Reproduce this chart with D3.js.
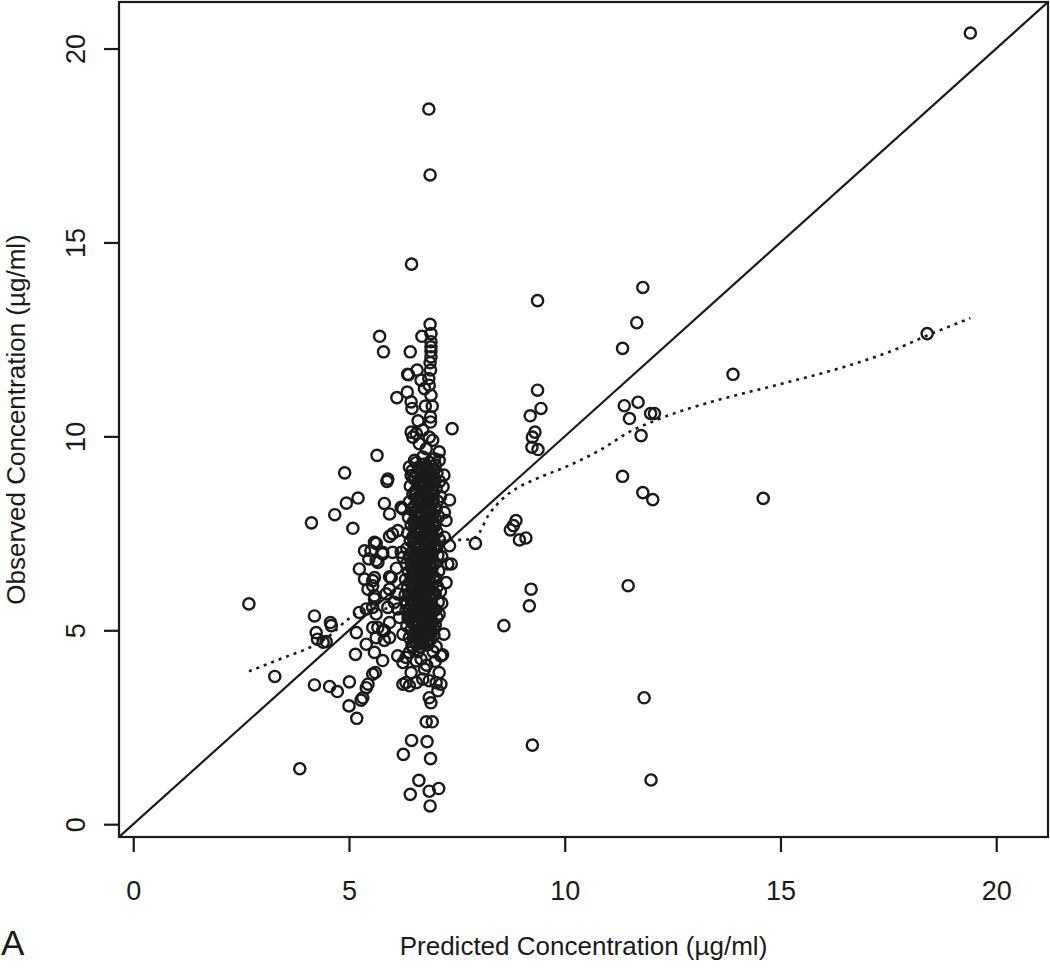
<!DOCTYPE html>
<html>
<head>
<meta charset="utf-8">
<script src="https://cdn.jsdelivr.net/npm/d3@7"></script>
<style>
  body { margin: 0; background: #fff; }
  svg { display: block; font-family: "Liberation Sans", Arial, sans-serif; }
</style>
</head>
<body>
<svg width="1050" height="970"></svg>
<script>
// ticks
const xTicks = [0, 5, 10, 15, 20];
const yTicks = [0, 5, 10, 15, 20];

// [predicted, observed] pairs
const topPoints = [[19.4, 20.4], [6.85, 18.44], [6.88, 16.74], [6.45, 14.44]];

const upperColumn = [
  [6.88, 12.89], [6.9, 12.65], [6.69, 12.58], [6.9, 12.44], [6.9, 12.31], [6.9, 12.2], [6.42, 12.18], [5.71, 12.58], [5.8, 12.18],
  [6.89, 11.71], [6.58, 11.71], [6.38, 11.59], [6.67, 11.45], [6.85, 11.49], [6.86, 11.32], [6.75, 11.23], [6.9, 11.06], [6.35, 11.14], [6.11, 11.0],
  [6.44, 10.89], [6.46, 10.72], [6.77, 10.78], [6.93, 10.78], [6.89, 10.5], [6.89, 10.37], [6.6, 10.4], [7.39, 10.2],
  [6.44, 10.11], [6.56, 10.07], [6.71, 10.16], [6.86, 9.98], [6.94, 9.9], [6.48, 9.98], [6.63, 9.81], [6.79, 9.68], [7.09, 9.6], [5.65, 9.51],
  [6.52, 9.38], [6.71, 9.47], [6.98, 9.42], [7.09, 9.38], [6.4, 9.21], [6.88, 11.9], [6.9, 12.05]
];

const rightPoints = [
  [9.37, 13.5], [11.81, 13.84], [11.67, 12.93], [11.34, 12.27], [9.37, 11.19], [9.45, 10.72], [9.2, 10.53], [9.31, 10.11],
  [9.25, 9.98], [9.24, 9.72], [9.38, 9.66], [11.38, 10.79], [11.7, 10.88], [11.5, 10.46], [11.99, 10.59], [12.08, 10.59],
  [11.77, 10.02], [11.34, 8.97], [11.81, 8.55], [12.04, 8.37], [8.87, 7.83], [8.81, 7.7], [8.74, 7.59], [8.95, 7.33],
  [9.1, 7.38], [7.93, 7.24], [9.22, 6.06], [9.18, 5.63], [8.59, 5.12], [11.47, 6.15], [11.84, 3.26], [12.0, 1.14],
  [9.25, 2.04], [13.9, 11.6], [14.6, 8.4], [18.4, 12.65]
];

const leftPoints = [
  [2.68, 5.68], [3.28, 3.81], [3.86, 1.43], [4.13, 7.77], [4.67, 7.98], [4.9, 9.06], [4.94, 8.28], [5.21, 8.41], [5.09, 7.63],
  [4.2, 5.37], [4.57, 5.2], [4.59, 5.12], [4.24, 4.94], [4.27, 4.77], [4.4, 4.69], [4.47, 4.71], [4.2, 3.59], [4.55, 3.55],
  [4.73, 3.42], [5.01, 3.67], [5.0, 3.05], [5.18, 2.73], [5.28, 3.2], [5.32, 3.26], [5.4, 3.52], [5.44, 3.61], [5.55, 3.87],
  [5.61, 3.91], [5.15, 4.38], [5.17, 4.94], [5.4, 4.64], [5.59, 4.43], [5.82, 4.74], [5.78, 4.22], [5.63, 4.81], [5.24, 5.46],
  [5.4, 5.55], [5.55, 5.59], [5.67, 5.07], [5.78, 4.99], [5.94, 5.2], [5.24, 6.58], [5.36, 6.32], [5.44, 6.06], [5.55, 6.28],
  [5.59, 5.89], [5.36, 7.05], [5.51, 7.05], [5.63, 7.24], [5.67, 6.75], [5.46, 6.84], [5.78, 6.97], [6.01, 7.01], [5.94, 7.42],
  [5.98, 6.36], [5.94, 6.06], [6.13, 5.94], [6.21, 7.01], [6.13, 5.55], [5.94, 8.0], [5.82, 8.27], [6.21, 8.17], [5.88, 8.84],
  [6.25, 8.13], [6.44, 8.99], [5.59, 7.27], [5.78, 7.01], [5.63, 6.8], [5.94, 6.38], [5.59, 6.36], [5.55, 6.15], [5.86, 5.94],
  [5.59, 5.81], [5.63, 5.42], [5.9, 5.59], [6.05, 5.72], [6.17, 5.33], [5.55, 5.07], [5.82, 4.99], [5.94, 4.81], [6.25, 4.9],
  [6.13, 7.57], [6.25, 6.88], [6.1, 6.6], [5.9, 8.9], [6.01, 7.49], [6.36, 11.6]
];

const lowPoints = [
  [6.13, 4.34], [6.25, 4.17], [6.32, 4.3], [6.4, 4.43], [6.48, 4.56], [6.56, 4.21], [6.67, 4.26], [6.44, 3.91], [6.32, 3.65],
  [6.25, 3.61], [6.4, 3.57], [6.56, 3.65], [6.71, 3.74], [6.86, 3.7], [7.02, 3.65], [7.13, 4.34], [7.09, 3.91], [7.13, 3.61],
  [7.06, 3.44], [6.86, 3.26], [6.9, 3.13], [6.79, 2.64], [6.93, 2.64], [6.45, 2.16], [6.81, 2.13], [6.26, 1.8], [6.89, 1.69],
  [6.62, 1.13], [6.42, 0.77], [6.86, 0.85], [7.08, 0.92], [6.88, 0.47], [6.95, 4.45], [6.8, 4.1], [6.6, 4.45], [6.75, 4.0], [7.0, 4.2]
];

const sidePoints = [
  [7.17, 4.37], [7.2, 4.9], [7.15, 5.7], [7.12, 6.0], [7.09, 5.42], [7.25, 6.23], [7.29, 6.71], [7.37, 6.71], [7.33, 7.18],
  [7.21, 7.4], [7.25, 7.83], [7.21, 8.04], [7.33, 8.36], [7.18, 8.7], [7.2, 9.0], [7.15, 6.9]
];

const corePoints = [
  [6.55, 9.32], [6.72, 9.28], [6.86, 9.33], [7.0, 9.26], [6.62, 9.21], [6.8, 9.17], [6.93, 9.23],
  [6.46, 9.11], [6.68, 9.08], [6.84, 9.12], [7.04, 9.06], [6.58, 9.01], [6.76, 8.97], [6.9, 9.03],
  [6.5, 8.91], [6.66, 8.87], [6.82, 8.93], [6.97, 8.89], [7.1, 8.84], [6.6, 8.81], [6.78, 8.76], [6.88, 8.8],
  [6.42, 8.72], [6.7, 8.68], [6.85, 8.71], [7.02, 8.66], [6.55, 8.61], [6.74, 8.57], [6.91, 8.62],
  [6.48, 8.51], [6.64, 8.47], [6.8, 8.52], [6.95, 8.49], [7.12, 8.45], [6.58, 8.41], [6.72, 8.37], [6.87, 8.42],
  [6.4, 8.31], [6.62, 8.28], [6.78, 8.32], [6.92, 8.27], [7.05, 8.33], [6.52, 8.21], [6.69, 8.17], [6.84, 8.22],
  [6.45, 8.11], [6.6, 8.07], [6.76, 8.12], [6.9, 8.08], [7.02, 8.13], [6.54, 8.01], [6.7, 7.97], [6.83, 8.02], [6.96, 7.98],
  [6.38, 7.91], [6.63, 7.88], [6.78, 7.92], [6.88, 7.87], [7.08, 7.93], [6.5, 7.81], [6.67, 7.77], [6.81, 7.82], [6.94, 7.78],
  [6.44, 7.71], [6.58, 7.67], [6.74, 7.72], [6.86, 7.68], [7.0, 7.73], [6.53, 7.61], [6.69, 7.57], [6.84, 7.62], [6.92, 7.58],
  [6.36, 7.51], [6.6, 7.48], [6.77, 7.52], [6.89, 7.47], [7.04, 7.53], [6.48, 7.41], [6.65, 7.37], [6.8, 7.42], [6.95, 7.38],
  [6.42, 7.31], [6.57, 7.27], [6.72, 7.32], [6.86, 7.28], [7.1, 7.33], [6.51, 7.21], [6.68, 7.17], [6.83, 7.22], [6.97, 7.18],
  [6.34, 7.11], [6.6, 7.08], [6.75, 7.12], [6.9, 7.07], [7.03, 7.13], [6.46, 7.01], [6.64, 6.97], [6.8, 7.02], [6.93, 6.98],
  [6.4, 6.91], [6.55, 6.87], [6.71, 6.92], [6.85, 6.88], [7.06, 6.93], [6.5, 6.81], [6.67, 6.77], [6.82, 6.82], [6.95, 6.78],
  [6.33, 6.71], [6.6, 6.68], [6.76, 6.72], [6.88, 6.67], [7.0, 6.73], [6.45, 6.61], [6.63, 6.57], [6.79, 6.62], [6.92, 6.58],
  [6.38, 6.51], [6.54, 6.47], [6.7, 6.52], [6.85, 6.48], [7.08, 6.53], [6.48, 6.41], [6.66, 6.37], [6.81, 6.42], [6.96, 6.38],
  [6.31, 6.31], [6.58, 6.28], [6.74, 6.32], [6.87, 6.27], [7.02, 6.33], [6.44, 6.21], [6.62, 6.17], [6.78, 6.22], [6.93, 6.18],
  [6.36, 6.11], [6.52, 6.07], [6.7, 6.12], [6.84, 6.08], [7.05, 6.13], [6.47, 6.01], [6.64, 5.97], [6.8, 6.02], [6.94, 5.98],
  [6.3, 5.91], [6.56, 5.88], [6.73, 5.92], [6.88, 5.87], [7.0, 5.93], [6.42, 5.81], [6.6, 5.77], [6.77, 5.82], [6.91, 5.78],
  [6.35, 5.71], [6.5, 5.67], [6.68, 5.72], [6.83, 5.68], [7.07, 5.73], [6.45, 5.61], [6.63, 5.57], [6.8, 5.62], [6.95, 5.58],
  [6.32, 5.51], [6.55, 5.48], [6.72, 5.52], [6.86, 5.47], [7.01, 5.53], [6.43, 5.41], [6.6, 5.37], [6.76, 5.42], [6.9, 5.38],
  [6.37, 5.31], [6.52, 5.27], [6.69, 5.32], [6.83, 5.28], [7.04, 5.33], [6.46, 5.21], [6.64, 5.17], [6.8, 5.22], [6.93, 5.18],
  [6.34, 5.11], [6.57, 5.08], [6.73, 5.12], [6.87, 5.07], [7.0, 5.13], [6.44, 5.01], [6.62, 4.97], [6.78, 5.02], [6.91, 4.98],
  [6.5, 4.91], [6.68, 4.87], [6.84, 4.92], [6.97, 4.88], [6.4, 4.81], [6.6, 4.77], [6.76, 4.82], [6.9, 4.78],
  [6.55, 4.71], [6.72, 4.67], [6.86, 4.72], [6.46, 4.61], [6.66, 4.57], [6.82, 4.62], [7.02, 4.58]
];

const coreFill = [
  [6.63, 9.15], [6.77, 9.05], [6.95, 9.12], [6.53, 8.95], [6.72, 8.85], [6.9, 8.95], [6.62, 8.75], [6.8, 8.65], [6.97, 8.75],
  [6.53, 8.55], [6.7, 8.45], [6.88, 8.55], [6.58, 8.35], [6.75, 8.25], [6.95, 8.35], [6.5, 8.15], [6.67, 8.05], [6.86, 8.15],
  [6.58, 7.95], [6.73, 7.85], [6.92, 7.95], [6.52, 7.75], [6.65, 7.65], [6.8, 7.75], [6.97, 7.65], [6.56, 7.55], [6.72, 7.45],
  [6.86, 7.55], [6.5, 7.35], [6.64, 7.25], [6.78, 7.35], [6.92, 7.25], [6.56, 7.15], [6.7, 7.05], [6.86, 7.15], [6.52, 6.95],
  [6.64, 6.85], [6.78, 6.95], [6.92, 6.85], [6.44, 6.75], [6.56, 6.65], [6.72, 6.75], [6.86, 6.65], [6.5, 6.55], [6.62, 6.45],
  [6.76, 6.55], [6.9, 6.45], [6.44, 6.35], [6.56, 6.25], [6.7, 6.35], [6.84, 6.25], [6.98, 6.35], [6.5, 6.15], [6.6, 6.05],
  [6.74, 6.15], [6.88, 6.05], [6.4, 5.95], [6.54, 5.85], [6.68, 5.95], [6.84, 5.85], [6.98, 5.95], [6.5, 5.75], [6.6, 5.65],
  [6.74, 5.75], [6.88, 5.65], [6.4, 5.55], [6.5, 5.45], [6.66, 5.55], [6.82, 5.45], [6.96, 5.55], [6.4, 5.35], [6.56, 5.25],
  [6.72, 5.35], [6.88, 5.25], [6.5, 5.15], [6.66, 5.05], [6.82, 5.15], [6.96, 5.05], [6.55, 4.95], [6.72, 4.85], [6.88, 4.95],
  [6.5, 4.75], [6.66, 4.65], [6.8, 4.72]
];

// dotted smoother
const loessPred = [2.68, 3.5, 4.24, 4.55, 4.94, 5.32, 5.78, 6.09, 6.4, 6.7, 6.9, 7.1, 7.33, 7.63, 7.93, 8.25, 8.56, 8.87, 9.33, 10.1, 10.87, 11.49, 12.1, 12.88, 13.53, 15.0, 16.5, 17.5, 18.4, 19.4];
const loessObs = [3.94, 4.3, 4.64, 4.86, 5.25, 5.5, 5.55, 5.59, 5.85, 6.4, 7.0, 7.3, 7.33, 7.33, 7.4, 8.0, 8.39, 8.65, 8.9, 9.25, 9.68, 10.11, 10.41, 10.72, 10.93, 11.35, 11.8, 12.17, 12.6, 13.05];

const allPoints = topPoints.concat(upperColumn, rightPoints, leftPoints, lowPoints, sidePoints, corePoints, coreFill);

const svg = d3.select("svg");
const ink = "#1a1a1a";

const x = d3.scaleLinear().domain([-0.33, 21.2]).range([119, 1048]);
const y = d3.scaleLinear().domain([-0.33, 21.2]).range([837, 2]);

const plot = svg.append("g");

svg.append("clipPath").attr("id", "clip")
  .append("rect")
  .attr("x", 119).attr("y", 2)
  .attr("width", 1048 - 119).attr("height", 837 - 2);

// identity line
plot.append("line")
  .attr("clip-path", "url(#clip)")
  .attr("x1", x(-0.33)).attr("y1", y(-0.33))
  .attr("x2", x(21.2)).attr("y2", y(21.2))
  .attr("stroke", ink)
  .attr("stroke-width", 2.2);

// points
plot.append("g")
  .selectAll("circle")
  .data(allPoints)
  .join("circle")
  .attr("cx", function(d) { return x(d[0]); })
  .attr("cy", function(d) { return y(d[1]); })
  .attr("r", 5.6)
  .attr("fill", "none")
  .attr("stroke", ink)
  .attr("stroke-width", 2.4);

// smoother
const smooth = d3.line()
  .x(function(d, i) { return x(loessPred[i]); })
  .y(function(d, i) { return y(d); })
  .curve(d3.curveMonotoneX);

plot.append("path")
  .datum(loessObs)
  .attr("d", smooth)
  .attr("fill", "none")
  .attr("stroke", ink)
  .attr("stroke-width", 2.6)
  .attr("stroke-dasharray", "3,5");

// box
svg.append("rect")
  .attr("x", 119).attr("y", 2)
  .attr("width", 1048 - 119).attr("height", 837 - 2)
  .attr("fill", "none")
  .attr("stroke", ink)
  .attr("stroke-width", 2.2);

// axes
const xAxis = svg.append("g")
  .attr("transform", "translate(0,837)")
  .call(d3.axisBottom(x).tickValues(xTicks).tickSize(15).tickPadding(29));

const yAxis = svg.append("g")
  .attr("transform", "translate(119,0)")
  .call(d3.axisLeft(y).tickValues(yTicks).tickSize(15));

[xAxis, yAxis].forEach(function(a) {
  a.select(".domain").remove();
  a.selectAll("line").attr("stroke", ink).attr("stroke-width", 2.2);
  a.selectAll("text")
    .attr("fill", ink)
    .style("font-size", "27px")
    .style("font-family", "\"Liberation Sans\", Arial, sans-serif");
});

yAxis.selectAll("text")
  .attr("transform", "rotate(-90)")
  .attr("x", 0)
  .attr("y", -34)
  .attr("dy", 0)
  .attr("text-anchor", "middle");

// titles
svg.append("text")
  .attr("x", (119 + 1048) / 2)
  .attr("y", 955)
  .attr("text-anchor", "middle")
  .attr("fill", ink)
  .style("font-size", "26px")
  .text("Predicted Concentration (µg/ml)");

svg.append("text")
  .attr("transform", "translate(25," + ((2 + 837) / 2) + ") rotate(-90)")
  .attr("text-anchor", "middle")
  .attr("fill", ink)
  .style("font-size", "26px")
  .text("Observed Concentration (µg/ml)");

svg.append("text")
  .attr("x", 1)
  .attr("y", 955)
  .attr("fill", ink)
  .style("font-size", "35px")
  .text("A");
</script>
</body>
</html>
